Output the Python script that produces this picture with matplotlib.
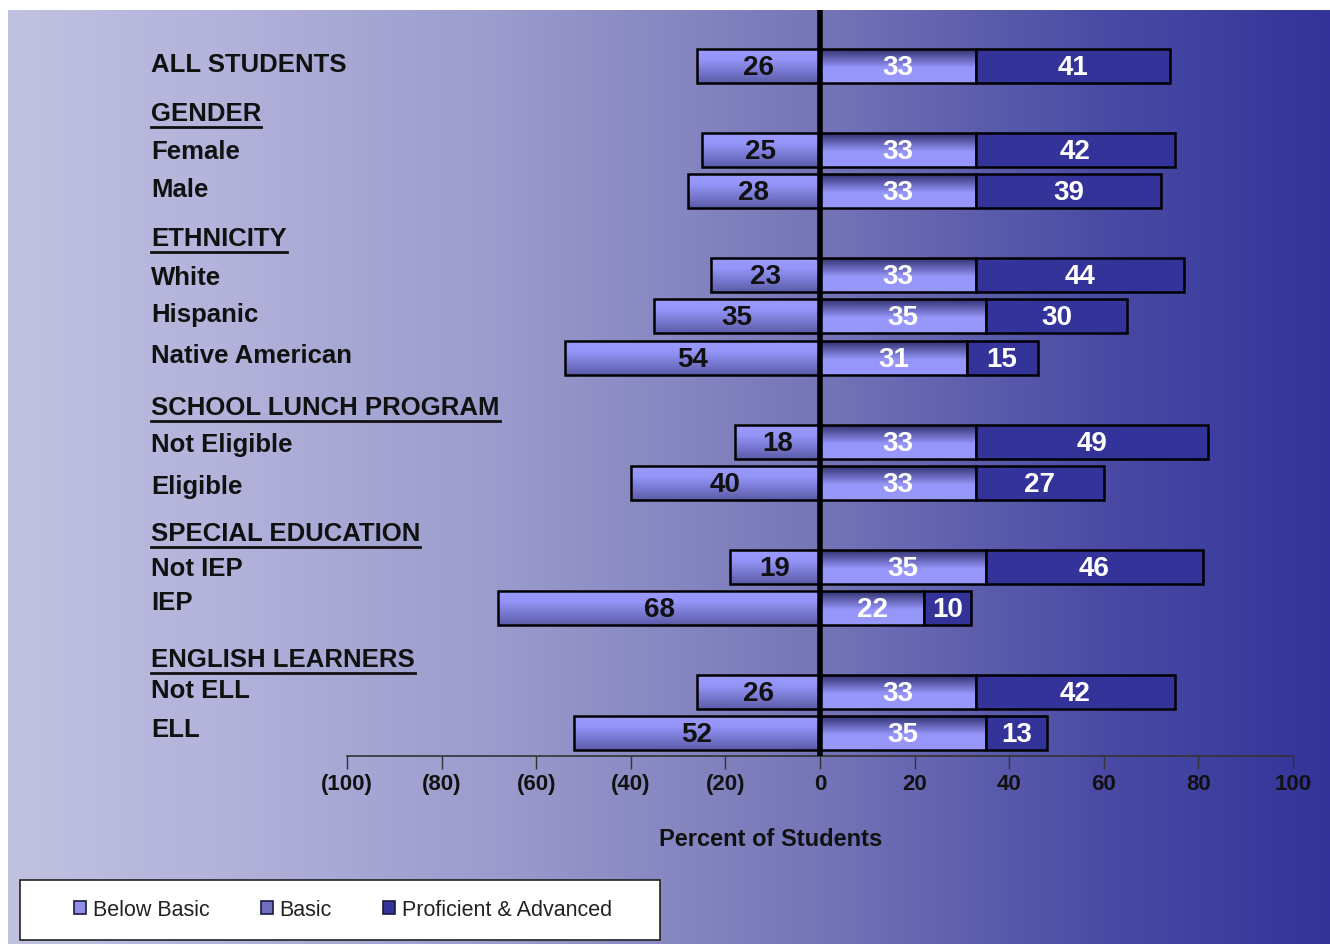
import numpy as np
import matplotlib.pyplot as plt
from matplotlib.patches import Patch, Rectangle
from matplotlib.lines import Line2D
from matplotlib.ticker import FuncFormatter

# data
groups = ['ALL STUDENTS', 'Female', 'Male', 'White', 'Hispanic', 'Native American',
          'Not Eligible', 'Eligible', 'Not IEP', 'IEP', 'Not ELL', 'ELL']
below_basic = [26, 25, 28, 23, 35, 54, 18, 40, 19, 68, 26, 52]
basic = [33, 33, 33, 33, 35, 31, 33, 33, 35, 22, 33, 35]
proficient = [41, 42, 39, 44, 30, 15, 49, 27, 46, 10, 42, 13]
headers = ['GENDER', 'ETHNICITY', 'SCHOOL LUNCH PROGRAM', 'SPECIAL EDUCATION', 'ENGLISH LEARNERS']
series_names = ['Below Basic', 'Basic', 'Proficient & Advanced']
ticks = [-100, -80, -60, -40, -20, 0, 20, 40, 60, 80, 100]

# layout (pixel rows of the 1330x944 picture)
W, H = 1330, 944
bar_y = [66, 150, 191, 275, 316, 358, 442, 483, 567, 608, 692, 733]
label_y = [65, 152, 190, 278, 315, 356, 445, 487, 569, 603, 691, 730]
header_y = [114, 239, 408, 534, 660]
bar_h = 34

plt.rcParams['font.family'] = ['Liberation Sans', 'DejaVu Sans']


def fx(px):
    return px / W


def fy(py):
    return 1 - py / H


fig = plt.figure(figsize=(13.3, 9.44), dpi=100)

# background gradient
bg = fig.add_axes([fx(8), 0, 1 - fx(8), fy(10)])
stops_x = [8, 200, 500, 800, 1100, 1330]
stops_c = np.array([[193, 193, 225], [180, 180, 220], [155, 155, 205],
                    [120, 120, 185], [75, 75, 165], [51, 51, 153]]) / 255
xs = np.linspace(8, 1330, 600)
grad = np.stack([np.interp(xs, stops_x, stops_c[:, k]) for k in range(3)], axis=-1)
bg.imshow(grad[np.newaxis, :, :], aspect='auto', extent=(0, 1, 0, 1))
bg.axis('off')

ax = fig.add_axes([fx(347), fy(756), fx(1293) - fx(347), fy(10) - fy(756)])
ax.set_facecolor('none')


def vgrad(top, mid, bottom, split, n=34):
    # list of colours from the top edge of a bar down to its bottom edge
    top, mid, bottom = [np.array(c) / 255 for c in (top, mid, bottom)]
    rows = []
    for v in np.linspace(0, 1, n):
        if v < split:
            a = v / split
            rows.append(top * (1 - a) + mid * a)
        else:
            a = (v - split) / (1 - split)
            rows.append(mid * (1 - a) + bottom * a)
    return rows


bb_cols = vgrad((155, 155, 255), (148, 148, 248), (92, 92, 170), 0.3)
ba_cols = vgrad((50, 50, 115), (150, 150, 250), (152, 152, 252), 0.55)
prof_col = '#333399'

left = [-v for v in below_basic]
bars_bb = ax.barh(bar_y, left, height=bar_h, color='none', edgecolor='black', linewidth=1.8, zorder=3)
bars_ba = ax.barh(bar_y, basic, height=bar_h, color='none', edgecolor='black', linewidth=1.8, zorder=3)
bars_pr = ax.barh(bar_y, proficient, left=basic, height=bar_h, color=prof_col,
                  edgecolor='black', linewidth=1.8, zorder=3)

# vertical shading inside the two lighter segments, drawn as thin strips
for bars, cols in ((bars_bb, bb_cols), (bars_ba, ba_cols)):
    for r in bars:
        x0 = r.get_x()
        w = r.get_width()
        ytop = r.get_y()
        step = r.get_height() / len(cols)
        for k, c in enumerate(cols):
            ax.add_patch(Rectangle((x0, ytop + k * step), w, step * 1.05, facecolor=c,
                                   edgecolor='none', linewidth=0, zorder=2))

ax.set_xlim(-100, 100)
ax.set_ylim(756, 10)

for i, y in enumerate(bar_y):
    ax.text(-below_basic[i] / 2, y + 2, str(below_basic[i]), ha='center', va='center',
            fontsize=20, fontweight='bold', color='#111111', zorder=6)
    ax.text(basic[i] / 2, y + 2, str(basic[i]), ha='center', va='center',
            fontsize=20, fontweight='bold', color='white', zorder=6)
    ax.text(basic[i] + proficient[i] / 2, y + 2, str(proficient[i]), ha='center', va='center',
            fontsize=20, fontweight='bold', color='white', zorder=6)

ax.axvline(0, color='black', linewidth=4, zorder=5)

for s in ['left', 'top', 'right']:
    ax.spines[s].set_visible(False)
ax.spines['bottom'].set_color('#333333')
ax.spines['bottom'].set_linewidth(1.2)
ax.set_yticks([])
ax.set_xticks(ticks)
ax.xaxis.set_major_formatter(FuncFormatter(lambda v, p: f'({abs(int(v))})' if v < 0 else f'{int(v)}'))
ax.tick_params(axis='x', direction='out', length=9, width=1, color='#333333', pad=4,
               labelsize=16, labelcolor='#111111')
for lb in ax.get_xticklabels():
    lb.set_fontweight('bold')

fig.text(fx(771), fy(840), 'Percent of Students', ha='center', va='center',
         fontsize=17, fontweight='bold', color='#111111')

# row labels and underlined headers
for name, y in zip(groups, label_y):
    fig.text(fx(151), fy(y), name, ha='left', va='center', fontsize=18.5,
             fontweight='bold', color='#111111')
head_texts = []
for name, y in zip(headers, header_y):
    head_texts.append(fig.text(fx(151), fy(y), name, ha='left', va='center', fontsize=18.5,
                               fontweight='bold', color='#111111'))

fig.canvas.draw()
renderer = fig.canvas.get_renderer()
for t in head_texts:
    bb = t.get_window_extent(renderer)
    yline = (bb.y0 - 1) / H
    fig.add_artist(Line2D([bb.x0 / W, bb.x1 / W], [yline, yline], color='#111111', linewidth=2))

# legend box
fig.add_artist(Rectangle((fx(20), fy(940)), fx(660) - fx(20), fy(880) - fy(940),
                         transform=fig.transFigure, facecolor='white', edgecolor='#222222',
                         linewidth=1.2, zorder=1))
handles = [Patch(facecolor='#9090e8', edgecolor='#1a1a40', linewidth=1.2),
           Patch(facecolor='#7070c0', edgecolor='#1a1a40', linewidth=1.2),
           Patch(facecolor=prof_col, edgecolor='#1a1a40', linewidth=1.2)]
leg = fig.legend(handles, series_names, loc='center', bbox_to_anchor=(fx(343), fy(910)),
                 ncol=3, frameon=False, fontsize=15.5, handlelength=0.55, handleheight=0.55,
                 handletextpad=0.3, columnspacing=2.4, labelcolor='#222222')
leg.set_zorder(2)

fig.savefig('out.png', dpi=100)
